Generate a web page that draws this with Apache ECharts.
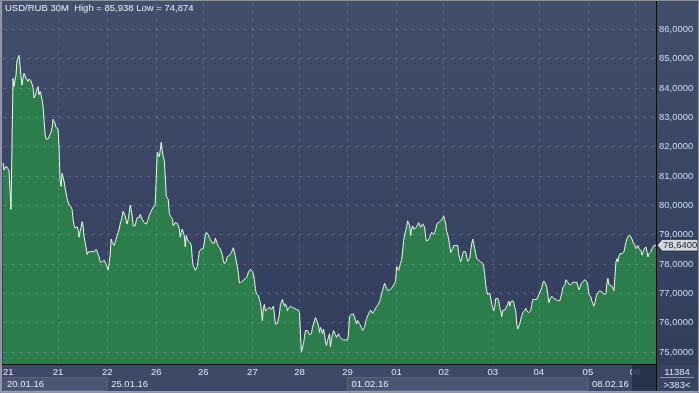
<!DOCTYPE html>
<html><head><meta charset="utf-8">
<script src="https://cdn.jsdelivr.net/npm/echarts@6/dist/echarts.min.js"></script>
<style>html,body{margin:0;padding:0;background:#3a4663;}#c{width:699px;height:393px;}</style>
</head><body><div id="c"></div>
<script>
// USD/RUB 30M close prices (one value per candle)
const pricesWeek1 = [
81.45,81.20,81.31,81.31,81.31,81.28,81.18,80.53,79.86,82.09,
84.33,84.05,84.10,84.44,84.94,85.02,85.11,84.78,84.38,84.10,
84.33,84.50,84.44,84.33,84.36,84.22,84.31,84.29,84.24,84.13,
84.02,83.66,83.60,83.83,83.96,84.05,83.77,83.88,83.77,83.60,
83.38,82.88,82.43,82.26,82.24,82.26,82.32,82.41,82.49,82.65,
82.93,82.93,82.79,82.65,82.63,82.60,81.98,80.87,80.64,81.09,
81.03,80.81,80.59,80.42,80.22,80.11,80.01,79.97,79.95,79.86,
79.52,79.32,79.22,79.28,79.27,79.17,78.91,79.11,79.25,79.44,
79.30,78.91,78.74,78.55,78.32,78.41,78.37,78.41,78.39,78.43,
78.40,78.41,78.36,78.50,78.43,78.32,78.24,78.07,78.13,78.07,
78.05,78.13,78.07,77.98,77.94,77.79,77.85,78.30,78.85,78.74,
78.69,78.63,78.74,78.80,78.97,79.08,79.19,79.36,79.47,79.64,
79.80,79.75,79.64,79.47,79.36,79.52,79.75,80.01,79.86,79.64,
79.30,79.25,79.30,79.47,79.58,79.52,79.58,79.69,79.64,79.52,
79.47,79.41,79.36,79.36,79.30,79.52,79.66,79.73,79.80,79.86,
79.94,79.97,80.03,80.08,81.81,81.81,81.65,81.87,82.15,81.87,
81.65];
const pricesWeek2 = [
81.54,80.98,80.31,80.37,80.20,79.75,79.63,79.59,79.55,79.30,
79.28,79.41,79.46,79.39,79.30,79.21,78.91,79.08,79.19,79.25,
78.97,78.58,78.97,78.85,78.78,78.74,78.72,78.63,78.18,77.94,
77.87,77.78,77.78,77.91,78.18,78.43,78.49,78.51,78.49,78.52,
78.71,78.99,79.08,79.07,78.99,78.91,78.83,78.78,78.71,78.66,
78.71,78.88,78.83,78.69,78.60,78.54,78.51,78.45,78.30,78.11,
78.01,77.98,78.10,78.25,78.30,78.29,78.31,78.39,78.45,78.55,
78.41,78.27,78.07,77.91,77.68,77.35,77.32,77.38,77.41,77.45,
77.48,77.50,77.47,77.59,77.72,77.78,77.82,77.78,77.74,77.66,
77.46,77.16,76.98,76.99,76.93,76.79,76.68,76.40,76.06,76.51,
76.62,76.40,76.45,76.45,76.51,76.53,76.56,76.45,76.51,76.56,
76.62,75.95,75.89,75.97,76.01,76.29,76.62,76.68,76.79,76.68,
76.56,76.64,76.56,76.40,76.49,76.53,76.56,76.53,76.51,76.51,
76.49,76.51,76.45,76.45,76.42,76.34,75.62,75.00,74.94,75.28,
75.50,75.73,75.78,75.73,75.67,75.59,75.56,75.62,75.84,75.95,
76.06,76.17,76.12,76.01,75.89,75.67,75.84,75.73,75.62,75.78,
75.62,75.34,75.22,75.39,75.50,75.62];
const pricesWeek3 = [
75.17,75.45,75.59,75.73,75.67,75.59,75.50,75.54,75.62,75.53,
75.48,75.45,75.43,75.41,75.41,75.41,75.41,75.41,75.62,76.20,
76.26,76.29,76.31,76.29,76.23,76.06,75.95,76.08,76.08,75.97,
75.89,75.82,75.73,75.70,75.84,76.01,76.14,76.22,76.29,76.33,
76.43,76.45,76.31,76.29,76.42,76.49,76.53,76.59,76.64,76.71,
76.82,76.99,77.10,77.23,77.34,77.25,77.17,77.10,77.08,77.11,
77.13,77.18,77.22,77.28,77.29,77.40,77.91,77.89,77.78,77.82,
78.02,78.15,78.41,78.80,78.99,79.13,79.27,79.47,79.45,79.30,
78.97,79.19,79.30,79.19,79.17,79.22,79.28,79.33,79.41,79.41,
79.25,79.25,79.37,79.33,79.25,78.91,78.78,78.77,78.83,78.91,
79.00,79.08,79.06,79.00,79.04,79.17,79.33,79.40,79.42,79.44,
79.46,79.50,79.56,79.64,79.58,79.36,79.10,79.02,79.06,78.63,
78.39,78.35,78.52,78.63,78.69,78.63,78.69,78.63,78.35,78.18,
78.07,78.18,78.35,78.43,78.46,78.41,78.24,78.09,78.13,78.18,
78.46,78.69,78.85,78.69,78.52,78.35,78.18,78.13,78.13,78.13,
78.07,78.05,78.02,77.91,77.63,77.29,77.07,76.96,76.90,77.01,
76.84,76.62,76.51,76.40,76.56];
const pricesWeek4 = [
76.82,76.79,76.82,76.73,76.51,76.40,76.20,76.42,76.44,76.42,
76.42,76.56,76.64,76.73,76.56,76.71,76.75,76.75,76.68,76.51,
76.40,75.95,75.78,75.78,75.95,76.12,76.23,76.34,76.40,76.42,
76.49,76.40,76.34,76.34,76.34,76.42,76.62,76.79,76.82,76.79,
76.82,76.79,76.84,76.96,77.01,77.12,77.20,77.35,77.42,77.40,
77.31,77.20,76.96,76.68,76.79,76.79,76.90,76.87,76.82,76.82,
76.79,76.79,76.75,76.79,76.75,76.73,77.01,77.20,77.16,77.29,
77.46,77.51,77.38,77.31,77.27,77.29,77.35,77.38,77.35,77.37,
77.38,77.38,77.24,77.12,77.20,77.31,77.35,77.40,77.46,77.46,
77.44,77.40,77.24,76.96,77.01,76.87,76.73,76.64,76.56,76.68,
76.84,76.96,77.03,77.07,77.09,77.07,77.05,77.01,76.96,76.93,
76.98,77.35,77.51,77.29,77.24,77.27,77.31,77.18,77.09,77.57,
78.07,78.18,78.07,78.27,78.35,78.35,78.35,78.35,78.41,78.58,
78.74,78.85,78.94,78.99,78.97,78.91,78.85,78.74,78.77,78.63,
78.52,78.58,78.63,78.52,78.50,78.46,78.30,78.39,78.50,78.54,
78.58,78.41,78.24,78.35,78.39,78.43,78.52,78.58,78.63,78.66,
78.64];

// day ticks (candle index where each day starts) and their labels
const tickIndex  = [0,55,104,153,200,249,296,344,393,440,489,535,584,631];
const tickLabels = ['21','21','22','26','26','27','28','29','01','02','03','04','05','08'];
// week start labels
const weekIndex  = [0,104,344,584];
const weekLabels = ['20.01.16','25.01.16','01.02.16','08.02.16'];
// price axis ticks
const yTicks = [75,76,77,78,79,80,81,82,83,84,85,86];

const titleText = 'USD/RUB 30M  High = 85,938 Low = 74,874';
const barsText = '11384';
const rangeText = '>383<';

const prices = pricesWeek1.concat(pricesWeek2, pricesWeek3, pricesWeek4);
const cats = prices.map((_, i) => i);
const FONT = "'Liberation Sans', Arial, sans-serif";
const FS = 9.5;
const fmt = v => v.toFixed(4).replace('.', ',');

const chart = echarts.init(document.getElementById('c'), null, {renderer: 'canvas'});
const option = {
  animation: false,
  backgroundColor: {type: 'linear', x: 0, y: 0, x2: 0, y2: 1,
    colorStops: [{offset: 0, color: '#414e6c'}, {offset: 1, color: '#313c5b'}]},
  grid: {left: 3, right: 43, top: -6.3, bottom: 26.4},
  xAxis: [{
    type: 'category', data: cats, boundaryGap: false, z: 50,
    axisLine: {show: false}, axisTick: {show: false}, splitLine: {show: false},
    axisLabel: {
      interval: (i) => tickIndex.includes(i),
      formatter: (v, i) => { const k = tickIndex.indexOf(i); return k >= 0 ? tickLabels[k] : ''; },
      color: '#dfe7f4', fontSize: FS, fontFamily: FONT, margin: 1, alignMinLabel: 'left'
    }
  }, {
    type: 'category', data: cats, boundaryGap: false, position: 'bottom', offset: 12, z: 50,
    axisLine: {show: false}, axisTick: {show: false}, splitLine: {show: false},
    axisLabel: {
      interval: (i) => weekIndex.includes(i),
      formatter: (v, i) => { const k = weekIndex.indexOf(i); return k >= 0 ? weekLabels[k] : ''; },
      color: '#dfe7f4', fontSize: FS, fontFamily: FONT, margin: 1, align: 'left', padding: [0, 0, 0, 4]
    }
  }],
  yAxis: {
    type: 'value', position: 'right', min: 74.5, max: 87, interval: 0.5, z: 50,
    axisLine: {show: true, lineStyle: {color: '#0b0b0b', width: 1}},
    axisTick: {show: false}, splitLine: {show: false},
    axisLabel: {
      color: '#c9d9f1', fontSize: FS, fontFamily: FONT, margin: 3,
      formatter: v => yTicks.some(t => Math.abs(t - v) < 1e-6) ? fmt(v) : ''
    }
  },
  series: [{
    type: 'line', data: prices, xAxisIndex: 0, symbol: 'none', showSymbol: false,
    lineStyle: {color: '#eafbe6', width: 1},
    areaStyle: {color: '#2b7d4b', opacity: 1, origin: 'start'},
    z: 2,
    markLine: {
      silent: true, symbol: ['none', 'none'], label: {show: false},
      lineStyle: {color: 'rgba(255,255,255,0.13)', type: [4, 4], width: 1},
      data: tickIndex.slice(1).map(i => ({xAxis: i})).concat(yTicks.map(v => ({yAxis: v})))
    }
  }]
};
chart.setOption(option);

const px = (i, v) => chart.convertToPixel({gridIndex: 0}, [i, v]);
const plotR = px(prices.length - 1, 80)[0];
const wx = weekIndex.map(i => px(i, 80)[0]);
const last = prices[prices.length - 1];
const ty = px(prices.length - 1, last)[1];

const g = [
  {type: 'rect', z: 40, shape: {x: 0, y: 365, width: plotR, height: 28}, style: {fill: '#3d4966'}},
  {type: 'rect', z: 40, shape: {x: plotR, y: 365, width: 699 - plotR, height: 28}, style: {fill: '#37435f'}},
  {type: 'rect', z: 41, shape: {x: wx[0] + 1, y: 377.5, width: wx[1] - wx[0] - 1, height: 13}, style: {fill: '#4a5671', stroke: '#5a6680', lineWidth: 1}},
  {type: 'rect', z: 41, shape: {x: wx[2], y: 377.5, width: wx[3] - wx[2], height: 13}, style: {fill: '#4a5671', stroke: '#5a6680', lineWidth: 1}},
  {type: 'line', z: 42, shape: {x1: 0, y1: 364.5, x2: plotR, y2: 364.5}, style: {stroke: '#0d0d0d', lineWidth: 1}},
  {type: 'line', z: 42, shape: {x1: plotR + 0.5, y1: 360, x2: plotR + 0.5, y2: 393}, style: {stroke: '#0d0d0d', lineWidth: 1}},
  {type: 'rect', z: 60, shape: {x: plotR - 24, y: 365, width: 24, height: 25.5}, style: {fill: 'rgba(36,45,70,0.82)'}},
  {type: 'text', z: 60, x: 677, y: 372, style: {text: barsText, fill: '#d8e2f0', font: FS + 'px ' + FONT, align: 'center', verticalAlign: 'middle'}},
  {type: 'line', z: 60, shape: {x1: 660, y1: 377.5, x2: 694, y2: 377.5}, style: {stroke: '#8d99ae', lineWidth: 1}},
  {type: 'text', z: 60, x: 677, y: 385, style: {text: rangeText, fill: '#d8e2f0', font: FS + 'px ' + FONT, align: 'center', verticalAlign: 'middle'}},
  {type: 'text', z: 60, x: 5, y: 8, style: {text: titleText, fill: '#e9eef7', font: FS + 'px ' + FONT, align: 'left', verticalAlign: 'middle'}},
  {type: 'polygon', z: 60, shape: {points: [[plotR + 1, ty], [plotR + 6, ty - 6], [698, ty - 6], [698, ty + 6], [plotR + 6, ty + 6]]}, style: {fill: '#d3d6dc', stroke: '#1b1f2a', lineWidth: 1}},
  {type: 'text', z: 61, x: plotR + 7, y: ty, style: {text: fmt(last), fill: '#1a2236', font: FS + 'px ' + FONT, align: 'left', verticalAlign: 'middle'}},
  {type: 'rect', z: 70, shape: {x: 0.5, y: 0.5, width: 698, height: 392}, style: {fill: 'none', stroke: '#8e949e', lineWidth: 1}},
  {type: 'line', z: 70, shape: {x1: 1.5, y1: 0, x2: 1.5, y2: 393}, style: {stroke: '#9aa0aa', lineWidth: 1}},
  {type: 'line', z: 70, shape: {x1: 0, y1: 391.5, x2: 699, y2: 391.5}, style: {stroke: '#9aa0aa', lineWidth: 1}}
];
chart.setOption({graphic: {elements: g}});
</script>
</body></html>
